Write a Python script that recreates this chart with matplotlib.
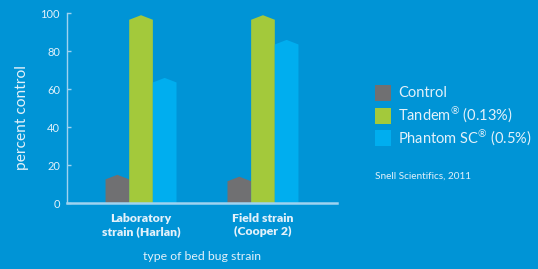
import matplotlib.pyplot as plt
from matplotlib.patches import Polygon, Rectangle

# data
strains = ["Laboratory\nstrain (Harlan)", "Field strain\n(Cooper 2)"]
series = ["Control", "Tandem$^{\u00ae}$ (0.13%)", "Phantom SC$^{\u00ae}$ (0.5%)"]
control = [15, 14]
tandem = [99, 99]
phantom = [66, 86]
yticks = [0, 20, 40, 60, 80, 100]

bg = "#0094d6"
colors = ["#707072", "#a3c93b", "#00aeef"]
txt = "#e3f1fa"
axcol = "#9fd3f0"

plt.rcParams["font.family"] = ["Lato", "DejaVu Sans"]
plt.rcParams["mathtext.fontset"] = "custom"
plt.rcParams["mathtext.rm"] = "Lato"
plt.rcParams["mathtext.it"] = "Lato"

fig = plt.figure(figsize=(5.38, 2.69), dpi=100, facecolor=bg)
W, H = 538, 269
ax = fig.add_axes([67 / W, (H - 203.3) / H, (337 - 67) / W, (203.3 - 13.3) / H])
ax.set_facecolor(bg)

width = 0.194
tip = 2.4  # height of the pointed cap
for i, vals in enumerate([control, tandem, phantom]):
    for g, v in enumerate(vals):
        x0 = g + (i - 1) * width - width / 2
        x1 = x0 + width
        poly = Polygon([(x0, 0), (x0, v - tip), ((x0 + x1) / 2, v),
                        (x1, v - tip), (x1, 0)], closed=True,
                       facecolor=colors[i], edgecolor="none", zorder=2)
        ax.add_patch(poly)

ax.set_xlim(-0.607, 1.607)
ax.set_ylim(0, 100)
ax.set_yticks(yticks)
ax.set_xticks([0, 1])
ax.set_xticklabels(strains, fontweight="heavy", fontsize=8.8, color=txt, linespacing=1.2)
ax.tick_params(axis="x", length=0, pad=7)
ax.tick_params(axis="y", direction="in", length=3, width=1, color=axcol,
               labelsize=8, labelcolor=txt, pad=5)

for s in ["top", "right"]:
    ax.spines[s].set_visible(False)
ax.spines["left"].set_color(axcol)
ax.spines["left"].set_linewidth(1)
ax.spines["bottom"].set_color(axcol)
ax.spines["bottom"].set_linewidth(1.8)
ax.spines["bottom"].set_zorder(3)

fig.text(22 / W, 1 - 118 / H, "percent control", rotation=90, ha="center",
         va="center", color=txt, fontsize=11.2)
fig.text(202 / W, 1 - 257 / H, "type of bed bug strain", ha="center",
         va="center", color=txt, fontsize=8.8)

# legend
ys = [92.7, 115.5, 138.3]
for name, c, y in zip(series, colors, ys):
    fig.patches.append(Rectangle((375 / W, 1 - (y + 8) / H), 16 / W, 16 / H,
                                 transform=fig.transFigure, facecolor=c,
                                 edgecolor="none"))
    fig.text(398 / W, 1 - y / H, name, ha="left", va="center",
             color=txt, fontsize=10.5)
fig.text(375 / W, 1 - 176 / H, "Snell Scientifics, 2011", ha="left",
         va="center", color=txt, fontsize=7.2)

fig.savefig("out.png", dpi=100, facecolor=bg)
